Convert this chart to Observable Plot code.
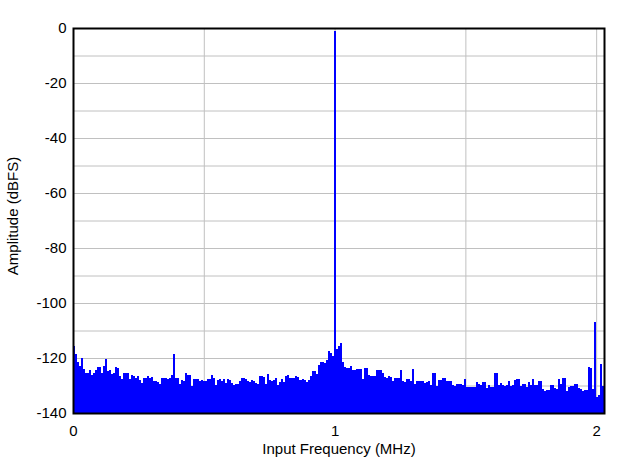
<!DOCTYPE html>
<html>
<head>
<meta charset="utf-8">
<script src="https://cdn.jsdelivr.net/npm/d3@7"></script>
<script src="https://cdn.jsdelivr.net/npm/@observablehq/plot@0.6"></script>
<style>
  html, body { margin: 0; padding: 0; background: #fff; }
  #chart svg { display: block; }
</style>
</head>
<body>
<div id="chart"></div>
<script>
// FFT bin width (MHz) and amplitude per bin (dBFS)
const binWidth = 1 / 130.5;
const amplitude = [
  -115.8, -118.5, -121.6, -123, -120, -124, -125.5, -125.5, -124.3, -126.2,
  -125.5, -124.3, -123.3, -123.3, -125.3, -123, -120.4, -124.6, -124.3, -125.8,
  -125.5, -123.3, -123.7, -126.7, -127.7, -125.5, -125.5, -125.5, -127.7, -126.2,
  -126.5, -127.3, -126.7, -128, -129, -127.3, -127.3, -126.5, -127.3, -127,
  -128.5, -128.5, -128.9, -129.5, -127.3, -127.3, -127.3, -127.7, -127.3, -126.1,
  -118.5, -127.3, -127.3, -129.4, -127.9, -128.2, -125.5, -126.1, -126.1, -130.1,
  -127.7, -127.7, -127.7, -128.2, -127.9, -128.5, -128.2, -127.7, -127.7, -126.1,
  -127.3, -129.8, -127.9, -127.7, -128.5, -127.7, -129.2, -127.7, -127.9, -129.2,
  -129.8, -129.4, -129.4, -128.5, -127.3, -127.3, -127.7, -128.2, -128.9, -127.9,
  -128.5, -129.2, -129.4, -126.5, -126.5, -127, -129.4, -125.8, -127.9, -128.2,
  -127.9, -127.3, -129.8, -128.9, -127.7, -128.9, -126.7, -126.1, -127.3, -127.3,
  -127.3, -126.7, -127, -127.9, -127.7, -127.9, -128.9, -128, -126.7, -124.9,
  -124.9, -125.8, -122.5, -121.3, -121.3, -121.8, -120.9, -117.6, -118, -119.4,
  -1, -116.8, -115.8, -114.4, -121.6, -123.1, -123.7, -123.7, -122.8, -124.3,
  -124.3, -124, -124, -124, -127.7, -123.7, -123.7, -126.1, -126.7, -126.7,
  -126.7, -124.5, -124.5, -124.5, -125.5, -127, -127.3, -126.5, -127, -128.5,
  -127.3, -127.3, -127.3, -124.3, -128.5, -128.9, -127.7, -127.7, -128.5, -124,
  -129.4, -128.2, -128.2, -128.2, -128.2, -129.2, -128.9, -128.5, -129.8, -125.5,
  -125.5, -130.1, -127.9, -127.9, -127.3, -127.3, -128.5, -128.5, -128.5, -129.8,
  -130.1, -129.4, -129.4, -129.4, -129.8, -127.7, -130.4, -130.6, -130.6, -130.6,
  -130.6, -128.9, -129.4, -129.8, -128.9, -128.9, -131, -129.8, -130.6, -130.4,
  -125.5, -125.5, -129.8, -129.2, -129.8, -130.1, -129.8, -128.2, -130.1, -129.8,
  -127.9, -127.7, -127.6, -130.3, -129.5, -129.5, -130.7, -128.7, -129.7, -127.5,
  -129.7, -129.7, -128.5, -128.5, -131.2, -132.1, -131.5, -131.5, -129.7, -129.7,
  -130.9, -131.2, -127.6, -129.5, -127.3, -127.3, -132.1, -130.7, -130.3, -130.3,
  -129.5, -129.5, -131, -131.2, -131.9, -131.5, -131.5, -123.4, -123.6, -131.2,
  -106.9, -134, -133.6, -122.2, -130.3
];
const xTickValues = [0, 1, 2];
const xGridValues = [0.5, 1, 1.5, 2];
const yTickValues = [0, -20, -40, -60, -80, -100, -120, -140];
const yGridValues = [-10, -20, -30, -40, -50, -60, -70, -80, -90, -100, -110, -120, -130];
const xLabel = "Input Frequency (MHz)";
const yLabel = "Amplitude (dBFS)";

const bins = amplitude.map((a, i) => ({f0: i * binWidth, f1: (i + 1) * binWidth, a}));

const chart = Plot.plot({
  width: 626,
  height: 469,
  marginTop: 28,
  marginBottom: 56,
  marginLeft: 73,
  marginRight: 22,
  style: {fontFamily: "'Liberation Sans', Arial, sans-serif", fontSize: "15px", color: "black", background: "white"},
  x: {domain: [0, 2.03]},
  y: {domain: [-140, 0]},
  marks: [
    Plot.gridX(xGridValues, {stroke: "#c0c0c0", strokeOpacity: 1, strokeWidth: 1}),
    Plot.gridY(yGridValues, {stroke: "#c0c0c0", strokeOpacity: 1, strokeWidth: 1}),
    Plot.rectY(bins, {x1: "f0", x2: "f1", y1: -140, y2: "a", fill: "#0000ff", inset: 0, shapeRendering: "crispEdges"}),
    Plot.axisX({ticks: xTickValues, tickSize: 0, tickPadding: 12, label: null, tickFormat: d => String(d), fontSize: 15, fill: "black"}),
    Plot.axisY({ticks: yTickValues, tickSize: 0, tickPadding: 7, label: null, tickFormat: d => String(d), fontSize: 15, fill: "black"}),
    Plot.text([xLabel], {frameAnchor: "bottom", lineAnchor: "top", dy: 30, fontSize: 15, fill: "black", text: d => d}),
    Plot.text([yLabel], {frameAnchor: "left", rotate: -90, textAnchor: "middle", lineAnchor: "top", dx: -66, dy: -5, fontSize: 15, fill: "black", text: d => d}),
    Plot.frame({stroke: "black", strokeWidth: 2})
  ]
});
document.getElementById("chart").appendChild(chart);
</script>
</body>
</html>
